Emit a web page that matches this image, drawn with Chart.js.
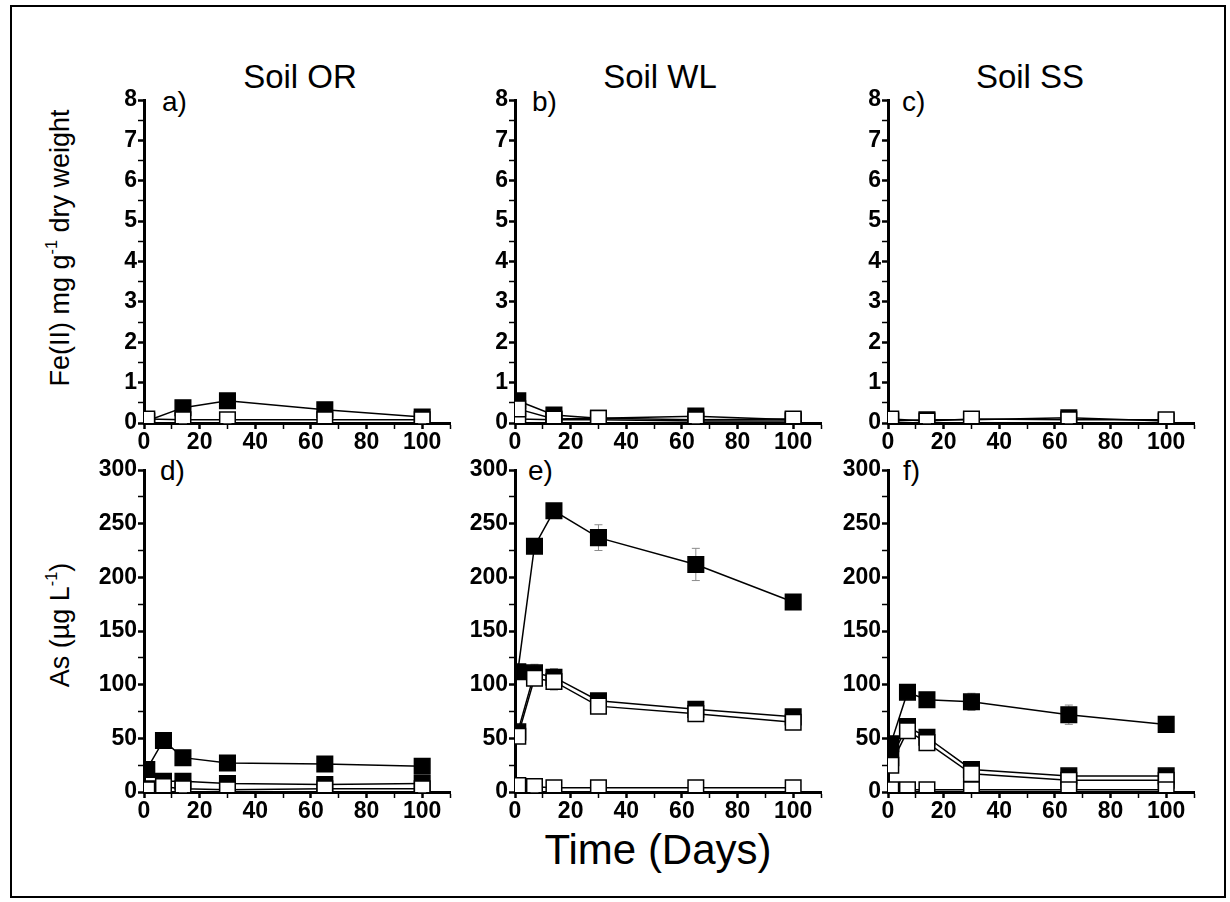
<!DOCTYPE html>
<html>
<head>
<meta charset="utf-8">
<title>Fe(II) and As over time</title>
<script src="https://cdn.jsdelivr.net/npm/chart.js@4.4.1/dist/chart.umd.min.js"></script>
<style>
    body { margin: 0; background: #fff; }
    #page { position: relative; width: 1230px; height: 902px; font-family: 'Liberation Sans', Arial, sans-serif; color: #000; }
    #frame { position: absolute; left: 10px; top: 5px; width: 1216px; height: 893px; border: 2px solid #000; box-sizing: border-box; }
    .panel { position: absolute; }
    .txt { position: absolute; white-space: nowrap; line-height: 1; }
    .col-title { font-size: 33px; transform: translateX(-50%); }
    .tag { font-size: 28px; }
    .ytitle { font-size: 27px; transform: translate(-50%, -50%) rotate(-90deg); }
    sup { font-size: 60%; vertical-align: 0.7em; line-height: 0; }
</style>
</head>
<body>
<div id="page">
    <div id="frame"></div>

    <div class="txt col-title" style="left:300px; top:60px;">Soil OR</div>
    <div class="txt col-title" style="left:660px; top:60px;">Soil WL</div>
    <div class="txt col-title" style="left:1030px; top:60px;">Soil SS</div>

    <div class="txt ytitle" style="left:60px; top:248px;">Fe(II) mg g<sup>-1</sup> dry weight</div>
    <div class="txt ytitle" style="left:60px; top:625px;">As (µg L<sup>-1</sup>)</div>

    <div class="txt col-title" style="left:658px; top:829px; font-size:42px;">Time (Days)</div>

    <div class="txt tag" style="left:162px; top:88px;">a)</div>
    <div class="txt tag" style="left:532px; top:88px;">b)</div>
    <div class="txt tag" style="left:902px; top:88px;">c)</div>
    <div class="txt tag" style="left:160px; top:457px;">d)</div>
    <div class="txt tag" style="left:528px; top:457px;">e)</div>
    <div class="txt tag" style="left:903px; top:457px;">f)</div>

    <div class="panel" id="p_a"><canvas id="c_a"></canvas></div>
    <div class="panel" id="p_b"><canvas id="c_b"></canvas></div>
    <div class="panel" id="p_c"><canvas id="c_c"></canvas></div>
    <div class="panel" id="p_d"><canvas id="c_d"></canvas></div>
    <div class="panel" id="p_e"><canvas id="c_e"></canvas></div>
    <div class="panel" id="p_f"><canvas id="c_f"></canvas></div>
</div>

<script>
'use strict';

// sampling days
var feDays = [1, 14, 30, 65, 100];
var asDays = [1, 7, 14, 30, 65, 100];

// Fe(II), mg g-1 dry weight
var feOR_filled = [0.05, 0.38, 0.55, 0.33, 0.15];
var feOR_open = [0.10, 0.08, 0.08, 0.08, 0.08];
var feOR_openErr = [0, 0.08, 0.08, 0.06, 0.08];

var feWL_filled = [0.55, 0.20, 0.12, 0.17, 0.08];
var feWL_open = [0.35, 0.10, 0.12, 0.08, 0.10];
var feWL_open2 = [0.10, 0.08, 0.08, 0.05, 0.05];
var feWL_openErr = [0, 0.08, 0.08, 0.08, 0.08];

var feSS_filled = [0.05, 0.08, 0.08, 0.13, 0.05];
var feSS_open = [0.10, 0.05, 0.10, 0.08, 0.08];
var feSS_openErr = [0, 0.06, 0.08, 0.08, 0.06];

// As, ug L-1
var asOR_filled1 = [21, 48, 32, 27, 26, 24];
var asOR_filled1Err = [0, 5, 2, 1, 1, 1];
var asOR_filled2 = [3, 10, 10, 8, 7, 8];
var asOR_filled2Err = [0, 4, 2, 1, 3, 1];
var asOR_open = [2, 5, 3, 2, 3, 3];
var asOR_openErr = [0, 2, 3, 1, 1, 4];

var asWL_filled1 = [112, 229, 262, 237, 212, 177];
var asWL_filled1Err = [0, 3, 2, 12, 15, 3];
var asWL_filled2 = [56, 111, 107, 85, 77, 70];
var asWL_filled2Err = [0, 8, 8, 3, 2, 2];
var asWL_open = [52, 106, 103, 80, 73, 65];
var asWL_openErr = [0, 6, 8, 3, 2, 2];
var asWL_open2 = [6, 5, 4, 4, 4, 4];
var asWL_open2Err = [0, 5, 0, 0, 0, 0];

var asSS_filled1 = [45, 93, 86, 84, 72, 63];
var asSS_filled1Err = [0, 2, 2, 8, 9, 2];
var asSS_filled2 = [32, 61, 51, 21, 15, 15];
var asSS_filled2Err = [0, 2, 5, 2, 2, 2];
var asSS_open = [25, 57, 46, 17, 11, 11];
var asSS_openErr = [0, 2, 3, 4, 6, 5];
var asSS_open2 = [2, 2, 2, 2, 2, 2];

var xTickLabels = [0, 20, 40, 60, 80, 100];

var TICK_FONT = { family: "'Liberation Sans', Arial, sans-serif", size: 23, weight: 'bold' };
var Y_AXIS_W = 70;
var X_AXIS_H = 42;
var PAD_TOP = 20;
var PAD_RIGHT = 15;

/**
 * Grey error bars drawn under the markers.
 */
var errorBars = {
    id: 'errorBars',
    beforeDatasetsDraw: function (chart) {
        var ctx = chart.ctx;
        var yScale = chart.scales.y;
        ctx.save();
        ctx.strokeStyle = '#8c8c8c';
        ctx.lineWidth = 1;
        chart.data.datasets.forEach(function (ds, i) {
            if (!ds.errors) return;
            var meta = chart.getDatasetMeta(i);
            meta.data.forEach(function (pt, j) {
                var e = ds.errors[j];
                if (!e) return;
                var v = ds.data[j].y;
                var yTop = yScale.getPixelForValue(v + e);
                var yBot = yScale.getPixelForValue(Math.max(0, v - e));
                ctx.beginPath();
                ctx.moveTo(pt.x, yTop);
                ctx.lineTo(pt.x, yBot);
                ctx.moveTo(pt.x - 4, yTop);
                ctx.lineTo(pt.x + 4, yTop);
                ctx.moveTo(pt.x - 4, yBot);
                ctx.lineTo(pt.x + 4, yBot);
                ctx.stroke();
            });
        });
        ctx.restore();
    }
};

function toPoints(days, values) {
    return days.map(function (d, i) { return { x: d, y: values[i] }; });
}

function series(days, values, filled, errors) {
    return {
        data: toPoints(days, values),
        errors: errors || null,
        borderColor: '#000',
        borderWidth: 1.5,
        backgroundColor: filled ? '#000' : '#fff',
        pointStyle: 'rect',
        pointRadius: 11,
        pointBorderColor: '#000',
        pointBorderWidth: 1.5,
        pointBackgroundColor: filled ? '#000' : '#fff',
        fill: false,
        tension: 0
    };
}

/**
 * Draw one panel so that its plot area sits at the given axis position.
 */
function DrawPanel(key, axisX, axisTop, axisBottom, yMax, yMinor, yMajor, datasets) {
    var plotW = 306;
    var left = axisX - Y_AXIS_W;
    var top = axisTop - PAD_TOP;
    var width = Y_AXIS_W + plotW + PAD_RIGHT;
    var height = PAD_TOP + (axisBottom - axisTop) + X_AXIS_H;

    var box = document.getElementById('p_' + key);
    box.style.left = left + 'px';
    box.style.top = top + 'px';
    box.style.width = width + 'px';
    box.style.height = height + 'px';

    var canvas = document.getElementById('c_' + key);
    canvas.width = width;
    canvas.height = height;

    new Chart(canvas.getContext('2d'), {
        type: 'line',
        data: { datasets: datasets },
        plugins: [errorBars],
        options: {
            responsive: false,
            animation: false,
            layout: { padding: { top: PAD_TOP, right: PAD_RIGHT, left: 0, bottom: 0 } },
            plugins: {
                legend: { display: false },
                tooltip: { enabled: false }
            },
            scales: {
                x: {
                    type: 'linear',
                    min: 0,
                    max: 110,
                    afterFit: function (scale) { scale.height = X_AXIS_H; },
                    border: { display: true, color: '#000', width: 3 },
                    grid: {
                        drawOnChartArea: false,
                        drawTicks: true,
                        tickLength: 6,
                        tickColor: '#000',
                        tickWidth: function (c) { return c.tick && c.tick.value % 20 === 0 ? 2.5 : 1.5; }
                    },
                    ticks: {
                        stepSize: 10,
                        autoSkip: false,
                        maxRotation: 0,
                        padding: 0,
                        color: '#000',
                        font: TICK_FONT,
                        callback: function (v) { return xTickLabels.indexOf(v) >= 0 ? String(v) : ''; }
                    }
                },
                y: {
                    type: 'linear',
                    min: 0,
                    max: yMax,
                    afterFit: function (scale) { scale.width = Y_AXIS_W; },
                    border: { display: true, color: '#000', width: 3 },
                    grid: {
                        drawOnChartArea: false,
                        drawTicks: true,
                        tickLength: 6,
                        tickColor: '#000',
                        tickWidth: function (c) { return c.tick && c.tick.value % yMajor === 0 ? 2.5 : 1.5; }
                    },
                    ticks: {
                        stepSize: yMinor,
                        autoSkip: false,
                        padding: 1,
                        color: '#000',
                        font: TICK_FONT,
                        callback: function (v) { return v % yMajor === 0 ? String(v) : ''; }
                    }
                }
            }
        }
    });
}

// open symbols first so they sit on top of the filled ones
DrawPanel('a', 144, 100, 423, 8, 0.5, 1, [
    series(feDays, feOR_open, false, feOR_openErr),
    series(feDays, feOR_filled, true)
]);
DrawPanel('b', 515, 100, 423, 8, 0.5, 1, [
    series(feDays, feWL_open, false, feWL_openErr),
    series(feDays, feWL_open2, false),
    series(feDays, feWL_filled, true)
]);
DrawPanel('c', 888, 100, 423, 8, 0.5, 1, [
    series(feDays, feSS_open, false, feSS_openErr),
    series(feDays, feSS_filled, true)
]);
DrawPanel('d', 144, 470, 792, 300, 25, 50, [
    series(asDays, asOR_open, false, asOR_openErr),
    series(asDays, asOR_filled2, true, asOR_filled2Err),
    series(asDays, asOR_filled1, true, asOR_filled1Err)
]);
DrawPanel('e', 515, 470, 792, 300, 25, 50, [
    series(asDays, asWL_open2, false, asWL_open2Err),
    series(asDays, asWL_open, false, asWL_openErr),
    series(asDays, asWL_filled2, true, asWL_filled2Err),
    series(asDays, asWL_filled1, true, asWL_filled1Err)
]);
DrawPanel('f', 888, 470, 792, 300, 25, 50, [
    series(asDays, asSS_open2, false),
    series(asDays, asSS_open, false, asSS_openErr),
    series(asDays, asSS_filled2, true, asSS_filled2Err),
    series(asDays, asSS_filled1, true, asSS_filled1Err)
]);
</script>
</body>
</html>
